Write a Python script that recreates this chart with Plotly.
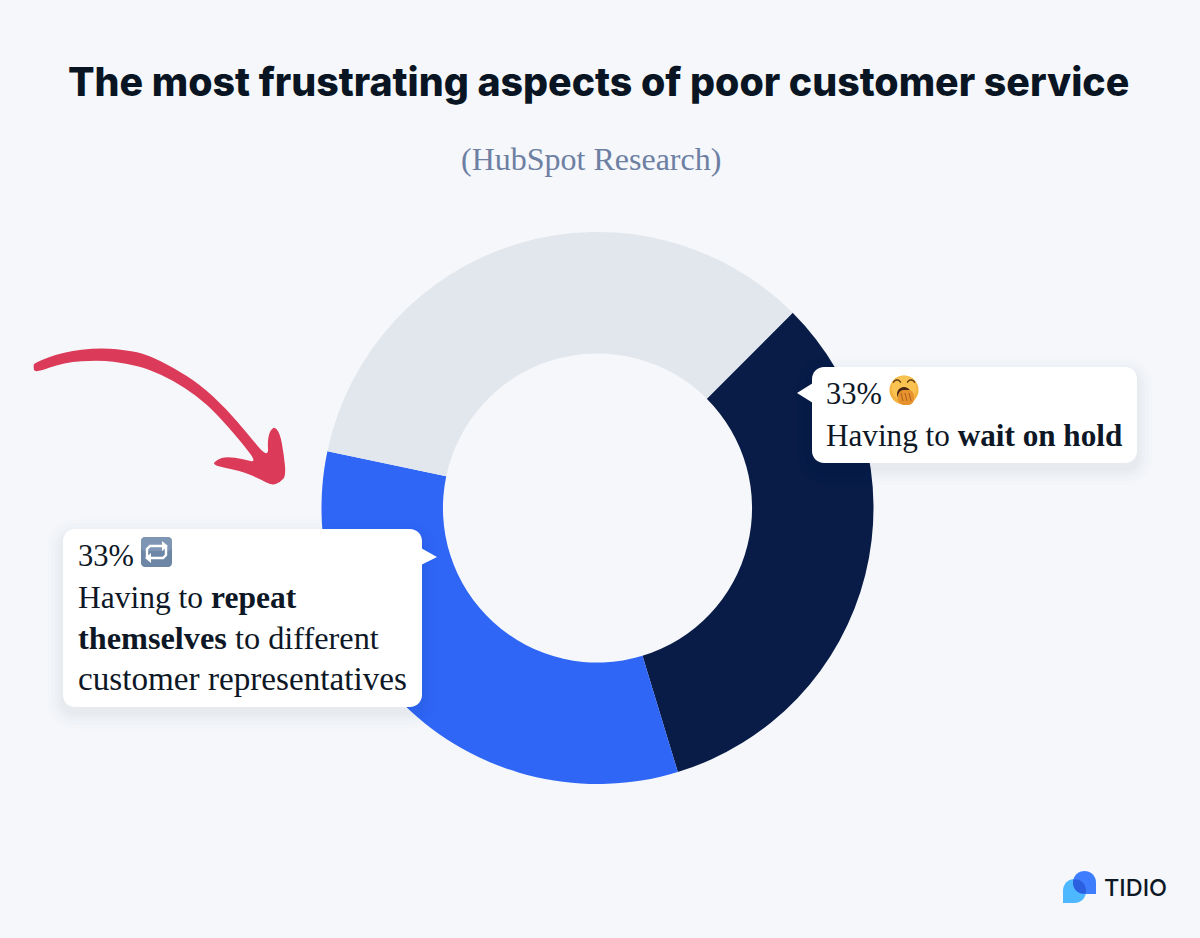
import math
import plotly.graph_objects as go

W, H = 1200, 938

# data
labels = ["Having to wait on hold", "Having to repeat themselves to different customer representatives", "Other"]
values = [32.8, 33.0, 34.2]  # slice sizes as measured, the callouts print them rounded
colors = ["#081c47", "#2f66f6", "#e2e7ed"]

title = "The most frustrating aspects of poor customer service"
subtitle = "(HubSpot Research)"

BG = "#f5f7fa"
INK = "#0d1726"
SERIF = "Liberation Serif"


def px(x, y):
    return x / W, 1 - y / H


def path(points, close=True):
    out = []
    for i, (x, y) in enumerate(points):
        a, b = px(x, y)
        out.append(("M" if i == 0 else "L") + f"{a:.5f},{b:.5f}")
    return " ".join(out) + (" Z" if close else "")


def smooth(points):
    # quadratic curve through the midpoints, for the hand drawn arrow
    n = len(points)
    mid = [((points[i][0] + points[(i + 1) % n][0]) / 2, (points[i][1] + points[(i + 1) % n][1]) / 2) for i in range(n)]
    a, b = px(*mid[-1])
    s = f"M{a:.5f},{b:.5f}"
    for i in range(n):
        c, d = px(*points[i])
        e, f = px(*mid[i])
        s += f" Q{c:.5f},{d:.5f} {e:.5f},{f:.5f}"
    return s + " Z"


def arc(cx, cy, r, a0, a1, n=24):
    return [(cx + r * math.cos(math.radians(a0 + (a1 - a0) * i / n)),
             cy + r * math.sin(math.radians(a0 + (a1 - a0) * i / n))) for i in range(n + 1)]


def round_rect(x0, y0, x1, y1, r):
    return (arc(x1 - r, y0 + r, r, -90, 0, 8) + arc(x1 - r, y1 - r, r, 0, 90, 8)
            + arc(x0 + r, y1 - r, r, 90, 180, 8) + arc(x0 + r, y0 + r, r, 180, 270, 8))


shapes = []


def add(points, color, opacity=1, raw=False):
    shapes.append(dict(type="path", xref="paper", yref="paper", layer="above",
                       path=points if raw else path(points), fillcolor=color,
                       opacity=opacity, line=dict(width=0)))


def stroke(points, color, width):
    shapes.append(dict(type="path", xref="paper", yref="paper", layer="above",
                       path=path(points, close=False), line=dict(color=color, width=width)))


def callout(x0, y0, x1, y1, tail):
    for grow, alpha in [(16, 0.008), (12, 0.01), (8, 0.012), (5, 0.014), (2, 0.016)]:
        add(round_rect(x0 - grow, y0 - grow + 6, x1 + grow, y1 + grow + 6, 12 + grow), "#26345a", alpha)
    add(tail, "white")
    add(round_rect(x0, y0, x1, y1, 12), "white")


callout(63, 529, 422, 707, [(421, 548), (437, 557), (421, 565)])
callout(812, 367, 1137, 463, [(813, 383), (797, 393), (813, 403)])

arrow_trace = [(100, 108), (104, 98), (190, 66), (300, 53), (400, 63), (450, 78), (520, 113), (600, 163), (680, 238),
               (740, 308), (806, 388), (802, 322), (820, 286), (840, 310), (851, 370), (858, 437), (842, 456),
               (815, 467), (780, 447), (720, 422), (636, 406), (650, 389), (680, 379), (730, 388), (772, 398),
               (720, 332), (650, 252), (590, 197), (520, 152), (445, 117), (380, 100), (300, 90), (190, 97), (104, 130)]
add(smooth([(x / 3, y / 3 + 330) for x, y in arrow_trace]), "#db3a58", raw=True)

# yawning face emoji
add(arc(904, 390, 14.5, 0, 360, 40), "#f4b23c")
add(arc(904, 388, 12.5, 0, 360, 40), "#fbc95a", 0.7)
add(arc(904, 394, 7, 0, 360, 24), "#4a2412")
add(round_rect(898, 390, 914, 405, 6), "#e8922e")
for lx in (901, 905, 909):
    stroke([(lx, 393), (lx + 2, 401)], "#a8601c", 1)
stroke(arc(897, 384, 4, 200, 340, 8), "#5a3414", 1.4)
stroke(arc(911, 384, 4, 200, 340, 8), "#5a3414", 1.4)

# repeat button emoji
add(round_rect(141, 537, 172, 567, 4), "#6d86a6")
add(round_rect(141, 537, 172, 551, 4), "#8ba2bd", 0.6)
stroke([(147, 557), (147, 549), (150, 546), (163, 546)], "white", 2.4)
add([(162, 541), (168, 546), (162, 551)], "white")
stroke([(166, 547), (166, 555), (163, 558), (150, 558)], "white", 2.4)
add([(151, 553), (145, 558), (151, 563)], "white")

# logo
light = [(1063, 903), (1063, 890.5)] + arc(1074.5, 890.5, 11.5, 180, 360, 20) + arc(1074.5, 891.5, 11.5, 0, 90, 10)
blue = arc(1084.5, 882.5, 11.5, 180, 360, 20) + [(1096, 894), (1084.5, 894)] + arc(1084.5, 882.5, 11.5, 90, 180, 10)
add(light, "#4db8ff")
add(blue, "#3f7dff")
lens = arc(1074.5, 890.5, 11.5, -75, 15, 16) + arc(1084.5, 882.5, 11.5, 105, 195, 16)
add(lens, "#2a5fdf")

notes = []


def text(x, y, s, size, color=INK, anchor="left", family=SERIF, weight=None):
    notes.append(dict(xref="paper", yref="paper", x=x / W, y=1 - y / H, text=s, showarrow=False,
                      xanchor=anchor, yanchor="middle", align=anchor,
                      font=dict(family=family, size=size, color=color, weight=weight)))


text(598, 82, title, 39.3, "#0a1524", "center", "Inter", 800)
text(591, 159, subtitle, 32, "#6d7fa3", "center")

text(824, 394, f"{round(values[0])}%", 30.5)
text(824, 435, "Having to <b>wait on hold</b>", 31.2)
text(76, 556, f"{round(values[1])}%", 30.5)
text(76, 597, "Having to <b>repeat</b>", 31.5)
text(76, 638, "<b>themselves</b> to different", 32.3)
text(76, 678, "customer representatives", 33.2)
text(1102, 887, "TIDIO", 23.5, "#0d1726", "left", "Inter", 500)

fig = go.Figure(go.Pie(
    labels=labels,
    values=values,
    sort=False,
    direction="clockwise",
    rotation=45,
    hole=0.56,
    marker=dict(colors=colors, line=dict(width=0)),
    textinfo="none",
    hoverinfo="label+percent",
    domain=dict(x=[321.5 / W, 873.5 / W], y=[1 - 784 / H, 1 - 232 / H]),
))

fig.update_layout(
    width=W, height=H,
    margin=dict(l=0, r=0, t=0, b=0),
    paper_bgcolor=BG,
    showlegend=False,
    shapes=shapes,
    annotations=notes,
)

fig.write_html("out.html", config=dict(displayModeBar=False),
               post_script="document.body.style.margin='0';document.documentElement.style.overflow='hidden';")
